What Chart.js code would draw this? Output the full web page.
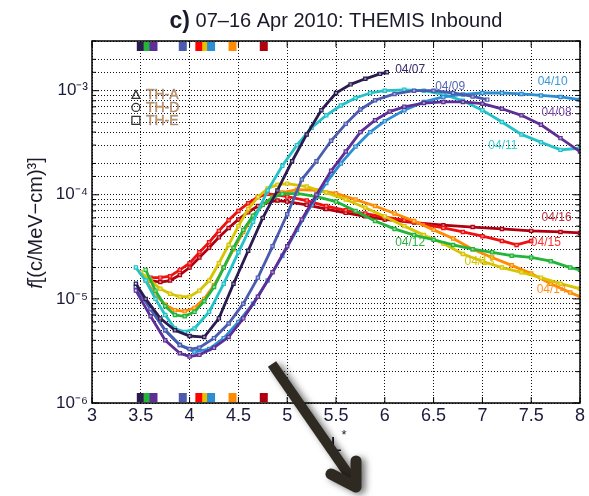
<!DOCTYPE html>
<html><head><meta charset="utf-8">
<script src="https://cdn.jsdelivr.net/npm/chart.js@4/dist/chart.umd.min.js"></script>
<style>html,body{margin:0;padding:0;background:#fff;}canvas{display:block}</style>
</head><body>
<canvas id="c" width="589" height="496"></canvas>
<script>
// ---- data (L*, phase space density f) ----
const seriesNames = ['04/07','04/08','04/09','04/10','04/11','04/12','04/13','04/14','04/15','04/16'];
const seriesColors = ['#2b1b50','#5e2f96','#4b5cb0','#2c8ed4','#22c2c8','#22b53a','#d8c400','#ff8c00','#f01010','#b00010'];
const labelColors  = ['#3a2a6a','#7a4aa8','#5565b5','#3a9ad8','#3ccfd0','#30b040','#d4c400','#ff9020','#ff3030','#c03040'];

const L07 = [3.45,3.55,3.7,3.85,4.0,4.15,4.3,4.45,4.6,4.75,4.9,5.05,5.2,5.35,5.5,5.65,5.8,5.95,6.02];
const F07 = [1.4e-5,1.0e-5,6.5e-6,5.0e-6,4.4e-6,4.3e-6,6.5e-6,1.4e-5,2.9e-5,6.0e-5,1.1e-4,2.1e-4,3.8e-4,6.5e-4,9.5e-4,1.15e-3,1.3e-3,1.45e-3,1.5e-3];

const L08 = [3.45,3.6,3.75,3.9,4.0,4.1,4.25,4.4,4.55,4.7,4.85,5.0,5.15,5.3,5.45,5.6,5.75,5.9,6.05,6.2,6.4,6.6,6.8,7.0,7.2,7.4,7.6,7.8,8.0];
const F08 = [1.2e-5,6.8e-6,4.0e-6,3.0e-6,2.8e-6,2.9e-6,3.4e-6,4.3e-6,6.5e-6,1.05e-5,1.8e-5,3.2e-5,5.8e-5,1.0e-4,1.7e-4,2.6e-4,4.0e-4,5.2e-4,6.3e-4,7.0e-4,7.6e-4,7.8e-4,7.8e-4,7.5e-4,6.7e-4,5.8e-4,4.7e-4,3.5e-4,2.6e-4];

const L09 = [3.45,3.6,3.75,3.9,4.0,4.1,4.25,4.4,4.55,4.7,4.85,5.0,5.15,5.3,5.45,5.6,5.75,5.9,6.1,6.3,6.5,6.7,6.9,7.05];
const F09 = [1.3e-5,8.0e-6,5.0e-6,3.6e-6,3.3e-6,3.4e-6,4.2e-6,5.8e-6,9.0e-6,1.6e-5,3.2e-5,6.5e-5,1.4e-4,2.1e-4,3.3e-4,4.8e-4,6.6e-4,8.1e-4,9.3e-4,1.0e-3,1.0e-3,9.5e-4,8.8e-4,8.2e-4];

const L10 = [3.45,3.6,3.75,3.9,4.05,4.2,4.35,4.5,4.65,4.8,4.95,5.1,5.25,5.4,5.55,5.7,5.85,6.0,6.2,6.4,6.6,6.8,7.0,7.2,7.4,7.6,7.8,8.0];
const F10 = [1.3e-5,8.0e-6,5.0e-6,3.6e-6,3.1e-6,3.3e-6,4.2e-6,6.0e-6,9.0e-6,1.5e-5,2.6e-5,4.6e-5,8.0e-5,1.3e-4,2.0e-4,2.9e-4,4.0e-4,5.1e-4,6.5e-4,7.8e-4,8.7e-4,9.2e-4,9.5e-4,9.5e-4,9.3e-4,9.0e-4,8.7e-4,8.2e-4];

const L11 = [3.45,3.55,3.65,3.75,3.85,3.95,4.05,4.2,4.35,4.5,4.65,4.8,4.95,5.1,5.25,5.4,5.55,5.7,5.85,6.0,6.2,6.4,6.6,6.8,7.0,7.2,7.4,7.6,7.8,8.0];
const F11 = [2.0e-5,1.5e-5,1.0e-5,7.0e-6,5.2e-6,4.8e-6,5.2e-6,7.5e-6,1.4e-5,2.8e-5,5.5e-5,1.1e-4,1.9e-4,3.0e-4,4.4e-4,5.8e-4,7.2e-4,8.5e-4,9.5e-4,1.0e-3,1.02e-3,1.0e-3,9.2e-4,8.0e-4,6.5e-4,5.0e-4,3.8e-4,3.2e-4,2.7e-4,2.8e-4];

const L12 = [3.55,3.65,3.75,3.85,3.95,4.05,4.15,4.25,4.35,4.45,4.55,4.65,4.75,4.85,4.95,5.1,5.3,5.5,5.7,5.9,6.1,6.3,6.5,6.7,6.9,7.1,7.3,7.5,7.7,7.9,8.0];
const F12 = [1.9e-5,1.2e-5,8.5e-6,7.0e-6,6.8e-6,7.5e-6,9.5e-6,1.3e-5,2.0e-5,3.1e-5,4.6e-5,6.3e-5,8.0e-5,9.4e-5,1.02e-4,1.03e-4,9.6e-5,8.6e-5,7.0e-5,5.6e-5,4.7e-5,4.1e-5,3.7e-5,3.3e-5,3.0e-5,2.8e-5,2.6e-5,2.5e-5,2.3e-5,2.0e-5,1.9e-5];

const L13 = [3.5,3.6,3.7,3.8,3.9,4.0,4.1,4.2,4.3,4.4,4.5,4.6,4.7,4.8,4.9,5.0,5.2,5.4,5.6,5.8,6.0,6.2,6.4,6.6,6.8,7.0,7.2,7.4,7.6,7.8,8.0];
const F13 = [1.8e-5,1.5e-5,1.25e-5,1.12e-5,1.05e-5,1.05e-5,1.2e-5,1.5e-5,2.2e-5,3.3e-5,5.0e-5,7.3e-5,9.5e-5,1.15e-4,1.25e-4,1.28e-4,1.2e-4,1.05e-4,9.0e-5,7.5e-5,6.2e-5,5.0e-5,4.1e-5,3.4e-5,2.7e-5,2.3e-5,2.0e-5,1.8e-5,1.6e-5,1.4e-5,1.25e-5];

const L14 = [3.55,3.65,3.75,3.85,3.95,4.05,4.15,4.25,4.35,4.45,4.55,4.65,4.75,4.85,4.95,5.1,5.3,5.5,5.7,5.9,6.1,6.3,6.5,6.7,6.9,7.1,7.3,7.5,7.7,7.9,8.0];
const F14 = [1.5e-5,1.1e-5,8.8e-6,7.8e-6,7.6e-6,8.2e-6,1.0e-5,1.35e-5,2.0e-5,3.0e-5,4.4e-5,6.2e-5,8.0e-5,9.5e-5,1.05e-4,1.12e-4,1.1e-4,1.03e-4,9.0e-5,7.8e-5,6.6e-5,5.6e-5,4.6e-5,3.8e-5,3.0e-5,2.5e-5,2.1e-5,1.75e-5,1.4e-5,1.15e-5,1.05e-5];

const L15 = [3.6,3.7,3.8,3.9,4.0,4.1,4.2,4.3,4.4,4.5,4.6,4.7,4.8,4.9,5.0,5.2,5.4,5.6,5.8,6.0,6.2,6.4,6.6,6.8,7.0,7.2,7.35,7.5];
const F15 = [1.6e-5,1.6e-5,1.65e-5,1.9e-5,2.2e-5,2.8e-5,3.5e-5,4.5e-5,5.7e-5,7.0e-5,8.3e-5,9.5e-5,1.02e-4,1.0e-4,9.6e-5,8.8e-5,7.8e-5,7.1e-5,6.6e-5,6.1e-5,5.7e-5,5.2e-5,4.8e-5,4.4e-5,4.0e-5,3.6e-5,3.3e-5,3.6e-5];

const L16 = [3.6,3.7,3.8,3.9,4.0,4.1,4.2,4.3,4.4,4.5,4.6,4.7,4.8,4.9,5.0,5.2,5.4,5.6,5.8,6.0,6.3,6.6,6.9,7.2,7.5,7.8,8.0];
const F16 = [1.5e-5,1.45e-5,1.5e-5,1.7e-5,2.0e-5,2.5e-5,3.1e-5,3.9e-5,4.8e-5,5.8e-5,6.8e-5,7.8e-5,8.5e-5,8.8e-5,8.6e-5,8.0e-5,7.3e-5,6.7e-5,6.2e-5,5.8e-5,5.4e-5,5.1e-5,4.9e-5,4.7e-5,4.5e-5,4.4e-5,4.3e-5];

const seriesL = [L07,L08,L09,L10,L11,L12,L13,L14,L15,L16];
const seriesF = [F07,F08,F09,F10,F11,F12,F13,F14,F15,F16];

// date-label anchor (data space)
const labelL = [6.26,7.76,6.67,7.72,7.21,6.26,6.97,7.71,7.65,7.76];
const labelF = [1.6e-3,6.2e-4,1.1e-3,1.22e-3,2.95e-4,3.47e-5,2.27e-5,1.23e-5,3.47e-5,6.0e-5];

// plasmapause markers (top and bottom strips)
const ppL = [3.50,3.57,3.63,3.93,4.10,4.17,4.22,4.44,4.76];
const ppColors = ['#2b1b50','#22b53a','#5e2f96','#4b5cb0','#ff0000','#e8c000','#2c8ed4','#ff8c00','#b00010'];

const xTickValues = [3,3.5,4,4.5,5,5.5,6,6.5,7,7.5,8];
const yMin = 1e-6, yMax = 3e-3;
const legendNames = ['TH-A','TH-D','TH-E'];

const SUP = {'-':'\u207B','0':'\u2070','1':'\u00B9','2':'\u00B2','3':'\u00B3','4':'\u2074','5':'\u2075','6':'\u2076','7':'\u2077','8':'\u2078','9':'\u2079'};
function supStr(s){return String(s).split('').map(c=>SUP[c]||c).join('');}

const FONT = "'Liberation Sans', Arial, Helvetica, sans-serif";

const datasets = seriesNames.map((n,i)=>({
  label:n,
  data: seriesL[i].map((x,j)=>({x:x, y:seriesF[i][j]})),
  borderColor: seriesColors[i],
  backgroundColor: seriesColors[i],
  pointBackgroundColor: 'rgba(255,255,255,0.5)',
  pointBorderColor: seriesColors[i],
  pointBorderWidth: 1.2,
  pointStyle: 'rect',
  pointRadius: 2.3,
  borderWidth: 2.8,
  showLine: true,
  tension: 0
}));

const decorPlugin = {
  id:'decor',
  beforeDraw(chart){
    const ctx = chart.ctx;
    ctx.save(); ctx.fillStyle='#fff'; ctx.fillRect(0,0,chart.width,chart.height); ctx.restore();
  },
  afterDatasetsDraw(chart){
    const ctx = chart.ctx, a = chart.chartArea;
    const xs = chart.scales.x, ys = chart.scales.y;
    ctx.save();
    // frame
    ctx.strokeStyle='#000'; ctx.lineWidth=1.5;
    ctx.strokeRect(a.left, a.top, a.right-a.left, a.bottom-a.top);
    // inward tick marks
    ctx.lineWidth=1;
    ys.ticks.forEach(t=>{
      const p = ys.getPixelForValue(t.value);
      const e = Math.log10(t.value); const major = Math.abs(e-Math.round(e))<1e-6;
      const len = major?7:4;
      ctx.beginPath(); ctx.moveTo(a.left,p); ctx.lineTo(a.left+len,p);
      ctx.moveTo(a.right,p); ctx.lineTo(a.right-len,p); ctx.stroke();
    });
    xTickValues.forEach(v=>{
      const p = xs.getPixelForValue(v);
      ctx.beginPath(); ctx.moveTo(p,a.bottom); ctx.lineTo(p,a.bottom-6);
      ctx.moveTo(p,a.top); ctx.lineTo(p,a.top+6); ctx.stroke();
    });
    // plasmapause markers
    ppL.forEach((v,i)=>{
      const p = xs.getPixelForValue(v);
      ctx.fillStyle = ppColors[i];
      ctx.fillRect(p-4, a.top+1, 8, 9);
      ctx.fillRect(p-4, a.bottom-10, 8, 9);
    });
    // date labels
    ctx.font = '12px '+FONT; ctx.textAlign='center'; ctx.textBaseline='middle';
    seriesNames.forEach((n,i)=>{
      ctx.fillStyle = labelColors[i];
      ctx.fillText(n, xs.getPixelForValue(labelL[i]), ys.getPixelForValue(labelF[i]));
    });
    // spacecraft legend
    const lx = xs.getPixelForValue(3.45), ly0 = ys.getPixelForValue(9.2e-4);
    ctx.textAlign='left';
    ctx.font = '14px '+FONT;
    legendNames.forEach((n,i)=>{
      const y = ly0 + i*13;
      ctx.strokeStyle='#333'; ctx.lineWidth=1.3;
      ctx.beginPath();
      if(i===0){ ctx.moveTo(lx-4,y+4); ctx.lineTo(lx,y-4); ctx.lineTo(lx+4,y+4); ctx.closePath(); }
      else if(i===1){ ctx.arc(lx,y,4,0,Math.PI*2); }
      else { ctx.rect(lx-4,y-4,8,8); }
      ctx.stroke();
      ctx.fillStyle='#e89a30';
      ctx.fillText(n, lx+10, y+1);
      ctx.strokeStyle='rgba(60,90,180,0.55)'; ctx.lineWidth=0.5;
      ctx.strokeText(n, lx+10, y+1);
    });
    ctx.restore();
  },
  afterDraw(chart){
    const ctx = chart.ctx, a = chart.chartArea;
    ctx.save();
    // title
    const cx = (a.left+a.right)/2;
    const t1 = 'c)', t2 = ' 07\u201316 Apr 2010: THEMIS Inbound';
    ctx.textBaseline='alphabetic';
    ctx.font = 'bold 23px '+FONT; const w1 = ctx.measureText(t1).width;
    ctx.font = '20px '+FONT; const w2 = ctx.measureText(t2).width;
    let x0 = cx - (w1+w2)/2;
    ctx.fillStyle='#1a1a2a';
    ctx.font = 'bold 23px '+FONT; ctx.textAlign='left'; ctx.fillText(t1, x0, 28);
    ctx.font = '20px '+FONT; ctx.fillText(t2, x0+w1, 27);
    // y-axis title
    ctx.translate(36, (a.top+a.bottom)/2+1);
    ctx.rotate(-Math.PI/2);
    ctx.font = 'italic 20px '+FONT; const wf = ctx.measureText('f').width;
    ctx.font = '20px '+FONT; const rest = '[(c/MeV\u2212cm)\u00B3]'; const wr = ctx.measureText(rest).width;
    ctx.textBaseline='middle';
    let sx = -(wf+wr)/2;
    ctx.font = 'italic 20px '+FONT; ctx.fillText('f', sx, 0);
    ctx.font = '20px '+FONT; ctx.fillText(rest, sx+wf, 0);
    ctx.setTransform(1,0,0,1,0,0);
    // x-axis title L*
    ctx.font = '20px '+FONT; ctx.textAlign='center'; ctx.textBaseline='alphabetic';
    ctx.fillText('L', cx, a.bottom+48);
    ctx.font = '13px '+FONT; ctx.fillText('*', cx+8, a.bottom+36);
    // overlay arrow
    ctx.shadowColor='rgba(0,0,0,0.55)'; ctx.shadowBlur=7; ctx.shadowOffsetX=4; ctx.shadowOffsetY=2;
    ctx.strokeStyle='#2e2a22'; ctx.lineWidth=10; ctx.lineCap='butt';
    ctx.beginPath(); ctx.moveTo(272,364); ctx.lineTo(351,478); ctx.stroke();
    ctx.lineWidth=11; ctx.lineCap='round'; ctx.lineJoin='round';
    ctx.beginPath(); ctx.moveTo(331,474); ctx.lineTo(356,487); ctx.lineTo(356,461); ctx.stroke();
    ctx.restore();
  }
};

new Chart(document.getElementById('c'), {
  type:'scatter',
  data:{datasets},
  options:{
    responsive:false, animation:false, devicePixelRatio:1,
    layout:{padding:{top:41,right:9,left:0,bottom:0}},
    plugins:{legend:{display:false}, tooltip:{enabled:false}, title:{display:false}},
    scales:{
      x:{
        type:'linear', min:3, max:8,
        afterFit(s){ s.height = 93; },
        afterBuildTicks(s){ s.ticks = xTickValues.map(v=>({value:v})); },
        ticks:{ font:{family:FONT, size:18}, color:'#1a1a3a', padding:2, maxRotation:0,
          callback:v=>String(v) },
        grid:{ color:'#111', lineWidth:1, drawTicks:false },
        border:{ display:false, dash:[1,2] }
      },
      y:{
        type:'logarithmic', min:yMin, max:yMax,
        afterFit(s){ s.width = 92; },
        ticks:{ font:{family:FONT, size:17}, color:'#1a1a3a', padding:4, autoSkip:false,
          callback:(v)=>{ const e=Math.log10(v); if(Math.abs(e-Math.round(e))<1e-6) return '10'+supStr(Math.round(e)); return ''; } },
        grid:{ color:'#111', lineWidth:1, drawTicks:false },
        border:{ display:false, dash:[1,2] }
      }
    }
  },
  plugins:[decorPlugin]
});
</script>
</body></html>
